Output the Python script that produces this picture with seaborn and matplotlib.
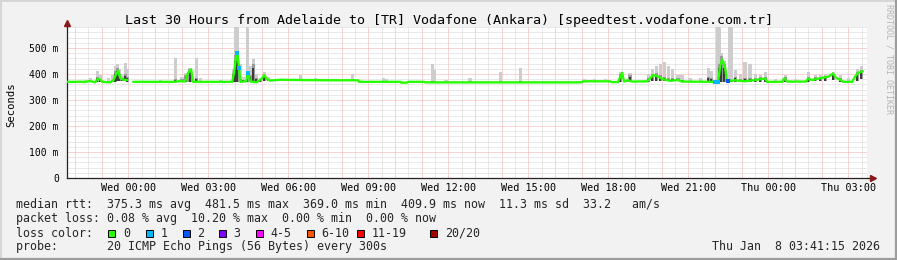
import numpy as np
import pandas as pd
import matplotlib
matplotlib.use("Agg")
import matplotlib.pyplot as plt
from matplotlib.ticker import MultipleLocator, FixedLocator, FuncFormatter
from matplotlib.patches import Rectangle
from matplotlib.lines import Line2D
import seaborn as sns

# ---------------- data ----------------
TITLE = "Last 30 Hours from Adelaide to [TR] Vodafone (Ankara) [speedtest.vodafone.com.tr]"
Y_LABEL = "Seconds"
SIDE_TEXT = "RRDTOOL / TOBI OETIKER"
X_TICK_HOURS = [0, 3, 6, 9, 12, 15, 18, 21, 24, 27]
X_TICK_LABELS = ["Wed 00:00", "Wed 03:00", "Wed 06:00", "Wed 09:00", "Wed 12:00",
                 "Wed 15:00", "Wed 18:00", "Wed 21:00", "Thu 00:00", "Thu 03:00"]
Y_TICKS = [0, 100, 200, 300, 400, 500]
Y_TICK_LABELS = ["0", "100 m", "200 m", "300 m", "400 m", "500 m"]
WINDOW = (-2.3125, 27.6875)   # hours relative to Wed 00:00
Y_MAX = 581

# median rtt (ms) at time (hours relative to Wed 00:00); NaN = no data
median_h = [-2.29, -1.60, -1.42, -1.24, -1.16, -1.05, -0.97, -0.67, -0.56, -0.45,
            -0.37, -0.30, -0.19, -0.04, 0.00, 0.19, 1.76, 1.95, 2.14, 2.25,
            2.36, 2.44, 3.90, 3.97, 4.05, 4.09, 4.16, 4.20, 4.42, 4.50,
            4.57, 4.80, 4.99, 5.10, 5.21, 5.32, 5.70, 6.45, 7.57, 8.62,
            8.66, 10.20, 10.24, 10.46, 10.50, 11.10, 11.14, 17.00, 17.06, 18.07,
            18.15, 18.37, 18.52, 18.60, 18.75, 18.90, 19.46, 19.69, 19.87, 20.06,
            20.32, 20.62, 20.77, 21.93, 22.01, 22.12, 22.20, 22.27, 22.38, 22.46,
            22.50, 22.76, 23.13, 23.51, 23.89, 23.96, 24.52, 24.60, 24.71, 25.42,
            25.50, 25.65, 25.87, 26.02, 26.25, 26.43, 26.55, 26.74, 26.81, 27.15,
            27.26, 27.37, 27.56]
median_ms = [370, 370, 373, 368, 380, 379, 370, 368, 375, 400,
             413, 385, 378, 377, np.nan, 370, 370, 373, 371, 405,
             418, 370, 370, 405, 470, 481, 423, 370, 372, 404,
             372, 368, 380, 396, 380, 375, 378, 377, 376, 376,
             370, 370, 367, 367, 370, 370, 368, 368, 372, 372,
             369, 369, 405, 371, 376, 371, 372, 396, 390, 380,
             374, 377, 371, 370, 369, 369, 430, 456, 428, 372,
             373, 376, 372, 377, 383, 370, 370, 383, 371, 371,
             382, 377, 382, 385, 390, 402, 385, 376, 370, 370,
             390, 405, 410]
median_loss = [0, 0, 0, 0, 0, 0, 0, 0, 0, 0,
               0, 0, 0, 0, 0, 0, 0, 0, 0, 0,
               0, 0, 0, 0, 0, 1, 1, 0, 0, 1,
               0, 0, 0, 0, 0, 0, 0, 0, 0, 0,
               0, 0, 0, 0, 0, 0, 0, 0, 0, 0,
               0, 0, 0, 0, 0, 0, 0, 0, 0, 0,
               0, 0, 0, 0, 1, 1, 0, 0, 0, 0,
               2, 0, 0, 0, 0, 0, 0, 0, 0, 0,
               0, 0, 0, 0, 0, 0, 0, 0, 0, 0,
               0, 0, 0]

# smoke: ping spread per 5-min sample (lo, dense part top, max)
smoke_h = [-1.60, -1.42, -1.16, -1.05, -0.75, -0.60, -0.49, -0.41, -0.34, -0.22,
           -0.11, -0.04, 1.20, 1.76, 2.02, 2.17, 2.32, 2.55, 2.70, 3.45,
           3.94, 4.01, 4.09, 4.20, 4.31, 4.46, 4.57, 4.69, 4.80, 4.95,
           5.10, 5.25, 5.89, 6.45, 7.01, 8.40, 9.56, 9.67, 11.40, 11.47,
           11.92, 12.82, 13.95, 14.70, 17.10, 17.50, 17.90, 18.45, 18.82, 19.50,
           19.65, 19.80, 19.95, 20.10, 20.25, 20.40, 20.62, 20.77, 21.07, 21.45,
           21.75, 21.86, 22.09, 22.16, 22.24, 22.35, 22.54, 22.61, 22.76, 22.95,
           23.13, 23.32, 23.51, 23.70, 23.89, 24.26, 24.64, 25.01, 25.50, 25.76,
           25.95, 26.14, 26.44, 26.70, 27.00, 27.34, 27.49]
smoke_lo = [369, 369, 370, 370, 368, 368, 370, 372, 372, 372,
            372, 370, 369, 369, 369, 369, 370, 369, 369, 369,
            370, 370, 370, 369, 369, 369, 369, 369, 368, 369,
            372, 372, 374, 374, 374, 372, 369, 369, 368, 368,
            368, 368, 368, 368, 370, 370, 370, 369, 370, 370,
            372, 375, 375, 374, 372, 372, 372, 370, 369, 369,
            369, 369, 369, 369, 370, 370, 370, 370, 370, 370,
            370, 370, 370, 370, 370, 369, 369, 369, 370, 372,
            372, 375, 378, 370, 369, 375, 380]
smoke_dark = [372, 375, 390, 380, 372, 378, 410, 425, 400, 385,
              400, 390, 372, 380, 380, 395, 418, 385, 375, 372,
              405, 475, 486, 380, 378, 400, 395, 440, 385, 380,
              398, 380, 378, 380, 378, 380, 372, 372, 375, 372,
              370, 372, 372, 375, 375, 375, 375, 400, 395, 385,
              400, 405, 395, 390, 385, 383, 385, 378, 375, 375,
              390, 385, 372, 440, 470, 440, 380, 378, 390, 380,
              385, 385, 385, 388, 390, 375, 390, 375, 390, 388,
              390, 393, 400, 385, 375, 408, 415]
smoke_hi = [378, 385, 411, 395, 385, 395, 430, 437, 420, 400,
            441, 420, 378, 460, 390, 405, 425, 460, 385, 376,
            420, 600, 600, 440, 390, 600, 430, 456, 400, 385,
            409, 390, 382, 398, 385, 400, 384, 382, 437, 415,
            377, 383, 409, 423, 380, 380, 380, 409, 404, 400,
            420, 430, 440, 446, 430, 420, 398, 398, 385, 385,
            423, 410, 600, 600, 481, 450, 600, 600, 417, 400,
            446, 440, 400, 395, 409, 380, 396, 380, 409, 395,
            395, 400, 409, 395, 385, 420, 431]

RTT_LABEL = "median rtt:"
RTT_STATS = ["375.3 ms avg", "481.5 ms max", "369.0 ms min", "409.9 ms now",
             "11.3 ms sd", "33.2   am/s"]
LOSS_LABEL = "packet loss:"
LOSS_STATS = ["0.08 % avg", "10.20 % max", "0.00 % min", "0.00 % now"]
LOSS_COLOR_LABEL = "loss color:"
LOSS_NAMES = ["0", "1", "2", "3", "4-5", "6-10", "11-19", "20/20"]
LOSS_COLORS = ["#26ff00", "#00b8ff", "#0059ff", "#7e00ff", "#ff00ff",
               "#ff5500", "#ff0000", "#a00000"]
PROBE_LABEL = "probe:"
PROBE_TEXT = "20 ICMP Echo Pings (56 Bytes) every 300s"
TIMESTAMP = "Thu Jan  8 03:41:15 2026"

# ---------------- figure ----------------
sns.set_style("white")
plt.rcParams["font.family"] = ["DejaVu Sans Mono", "DejaVu Sans"]

W, H = 897, 260
BG = "#f2f2f2"
fig = plt.figure(figsize=(W / 100, H / 100), dpi=100, facecolor=BG)


def fx(px):
    return px / W


def fy(py):
    return 1 - py / H


L, R, T, B = 66.5, 866.5, 27.0, 178.0
ax = fig.add_axes([fx(L), fy(B), fx(R) - fx(L), (B - T) / H])
ax.set_facecolor("white")

df = pd.DataFrame({"h": median_h, "ms": median_ms, "loss": median_loss})
df["seg"] = df["ms"].isna().cumsum()
line_df = df.dropna()

sm = pd.DataFrame({"h": smoke_h, "lo": smoke_lo, "dark": smoke_dark, "hi": smoke_hi})
step = 1 / 12
ax.bar(sm["h"], sm["hi"] - sm["lo"], bottom=sm["lo"], width=step * 1.4,
       color="#cdcdcd", linewidth=0, zorder=2)
ax.bar(sm["h"], (sm["dark"] - sm["lo"]) * 1.0, bottom=sm["lo"], width=step * 1.4,
       color="#9a9a9a", linewidth=0, zorder=2.05)
ax.bar(sm["h"], (sm["dark"] - sm["lo"]) * 0.75, bottom=sm["lo"], width=step * 0.9,
       color="#3c3c3c", linewidth=0, zorder=2.1)

sns.lineplot(data=line_df, x="h", y="ms", units="seg", estimator=None,
             color=LOSS_COLORS[0], linewidth=1.7, ax=ax, legend=False, zorder=3)
loss_df = line_df[line_df["loss"] > 0]
sns.scatterplot(data=loss_df, x="h", y="ms", hue="loss",
                palette={1: LOSS_COLORS[1], 2: LOSS_COLORS[2]},
                marker="s", s=7, linewidth=0, ax=ax, legend=False, zorder=4)

ax.set_xlim(*WINDOW)
ax.set_ylim(0, Y_MAX)
ax.set_xlabel("")
ax.set_ylabel("")

# grid
ax.xaxis.set_major_locator(MultipleLocator(1))
ax.xaxis.set_minor_locator(MultipleLocator(0.5))
lab_map = dict(zip(X_TICK_HOURS, X_TICK_LABELS))
ax.xaxis.set_major_formatter(FuncFormatter(
    lambda v, p: lab_map.get(int(round(v)), "") if abs(v - round(v)) < 1e-6 else ""))
ax.yaxis.set_major_locator(FixedLocator(Y_TICKS))
ax.set_yticklabels(Y_TICK_LABELS)
ax.yaxis.set_minor_locator(MultipleLocator(20))
ax.set_axisbelow(True)
dot = (0, (1, 1))
ax.grid(which="major", color="#f4aaaa", linestyle=dot, linewidth=0.72, zorder=0)
ax.grid(which="minor", color="#d4d4d4", linestyle=dot, linewidth=0.72, zorder=0)

for s in ["top", "right"]:
    ax.spines[s].set_visible(False)
for s in ["left", "bottom"]:
    ax.spines[s].set_color("#222222")
    ax.spines[s].set_linewidth(0.9)

ax.tick_params(axis="x", which="major", length=2.2, width=0.7, color="#222222",
               pad=1.5, labelsize=7.3, labelcolor="#000000")
ax.tick_params(axis="y", which="major", length=2.5, width=0.7, color="#222222",
               pad=3.0, labelsize=7.0, labelcolor="#000000")
ax.tick_params(which="minor", length=0)

# axis arrows
arrow_c = "#8b1a1a"
ax.plot([0, 0], [1, 1 + 3 / 151], transform=ax.transAxes, color="#222222",
        lw=0.9, clip_on=False)
ax.plot([0], [1 + 4.5 / 151], transform=ax.transAxes, marker="^", color=arrow_c,
        markersize=4.2, clip_on=False, linestyle="none")
ax.plot([1, 1 + 4 / 800], [0, 0], transform=ax.transAxes, color="#222222",
        lw=0.9, clip_on=False)
ax.plot([1 + 6 / 800], [0], transform=ax.transAxes, marker=">", color=arrow_c,
        markersize=4.2, clip_on=False, linestyle="none")

# title / labels
fig.text(0.5, fy(24), TITLE, ha="center", va="baseline", fontsize=9.6, color="#000000")
fig.text(fx(11), fy(105), Y_LABEL, rotation=90, ha="center", va="center",
         fontsize=7.6, color="#000000")
fig.text(fx(889), fy(59), SIDE_TEXT, rotation=270, ha="center", va="center",
         fontsize=6.0, color="#b4b4b4")

# legend
LF = 8.4
line1 = RTT_LABEL + "  " + "  ".join(RTT_STATS)
line2 = LOSS_LABEL + " " + "  ".join(LOSS_STATS)
line4 = PROBE_LABEL + " " * 7 + PROBE_TEXT
fig.text(fx(16), fy(208), line1, ha="left", va="baseline", fontsize=LF)
fig.text(fx(16), fy(222.3), line2, ha="left", va="baseline", fontsize=LF)
fig.text(fx(16), fy(236.7), LOSS_COLOR_LABEL, ha="left", va="baseline", fontsize=LF)
fig.text(fx(16), fy(250), line4, ha="left", va="baseline", fontsize=LF)
fig.text(fx(880), fy(249.5), TIMESTAMP, ha="right", va="baseline", fontsize=LF)

box_x = [108.3, 145.7, 182.7, 219.0, 256.0, 306.7, 357.3, 430.0]
for bx, name, col in zip(box_x, LOSS_NAMES, LOSS_COLORS):
    fig.patches.append(Rectangle((fx(bx), fy(237)), 7 / W, 7 / H,
                                 transform=fig.transFigure, facecolor=col,
                                 edgecolor="#000000", linewidth=0.7))
    fig.text(fx(bx + 14.7), fy(236.7), name, ha="left", va="baseline", fontsize=LF)

# frame
fig.add_artist(Line2D([0, 1], [1 - 1 / H, 1 - 1 / H], transform=fig.transFigure,
                      color="#d6d6d6", lw=1.4))
fig.add_artist(Line2D([1 / W, 1 / W], [0, 1], transform=fig.transFigure,
                      color="#d6d6d6", lw=1.4))
fig.add_artist(Line2D([0, 1], [1 / H, 1 / H], transform=fig.transFigure,
                      color="#9c9c9c", lw=1.6))
fig.add_artist(Line2D([1 - 1 / W, 1 - 1 / W], [0, 1], transform=fig.transFigure,
                      color="#9c9c9c", lw=1.6))

fig.savefig("out.png", dpi=100, facecolor=BG)
